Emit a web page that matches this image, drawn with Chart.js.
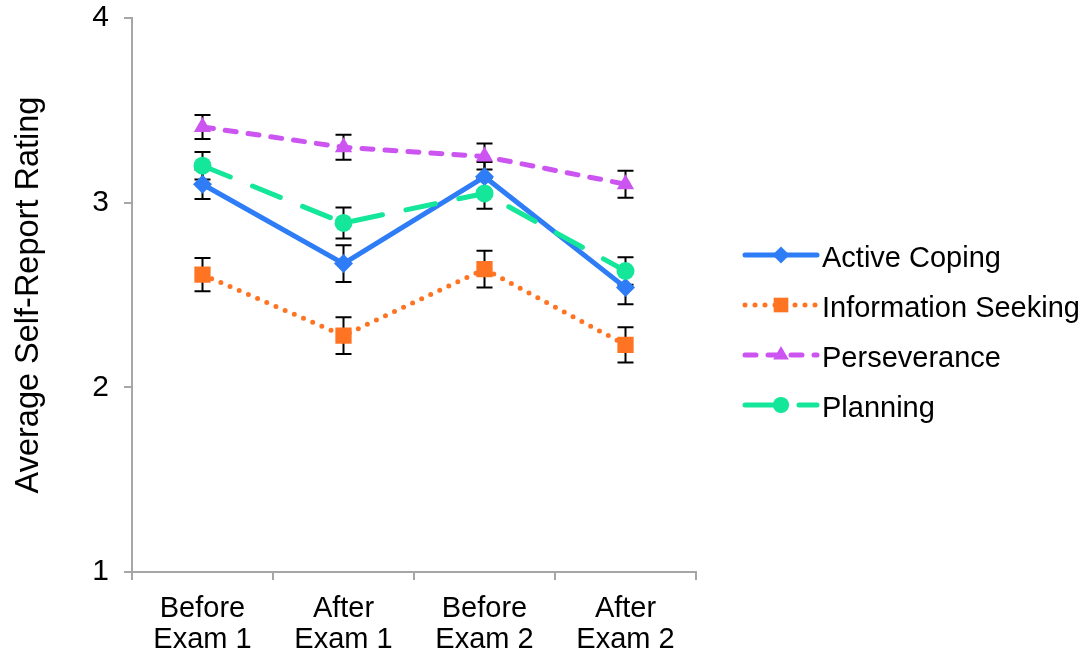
<!DOCTYPE html>
<html>
<head>
<meta charset="utf-8">
<script src="https://cdn.jsdelivr.net/npm/chart.js@4/dist/chart.umd.min.js"></script>
<style>
  html, body { margin: 0; padding: 0; background: #ffffff; }
  #wrap { width: 1088px; height: 653px; position: relative; }
</style>
</head>
<body>
<div id="wrap"><canvas id="c" width="1088" height="653"></canvas></div>
<script>
// Time points on the x axis (two-line labels)
const categories = [
  ['Before', 'Exam 1'],
  ['After', 'Exam 1'],
  ['Before', 'Exam 2'],
  ['After', 'Exam 2']
];

// Mean self-report ratings per coping strategy
const activeCoping        = [3.10, 2.67, 3.14, 2.54];
const informationSeeking  = [2.61, 2.28, 2.64, 2.23];
const perseverance        = [3.41, 3.30, 3.25, 3.10];
const planning            = [3.20, 2.89, 3.05, 2.63];

// Standard errors (half-length of each error bar)
const activeCopingErr       = [0.08, 0.10, 0.08, 0.09];
const informationSeekingErr = [0.09, 0.10, 0.10, 0.095];
const perseveranceErr       = [0.065, 0.068, 0.07, 0.073];
const planningErr           = [0.074, 0.084, 0.083, 0.074];

// Y axis range and ticks
const yMin = 1, yMax = 4, yStep = 1;
const yTitle = 'Average Self-Report Rating';

const FONT = '"Liberation Sans", Arial, Helvetica, sans-serif';

const series = [
  { label: 'Active Coping', data: activeCoping, err: activeCopingErr,
    color: '#2E7DF6', style: 'rectRot', radius: 9.5, dash: [], cap: 'round', width: 5 },
  { label: 'Information Seeking', data: informationSeeking, err: informationSeekingErr,
    color: '#FF7423', style: 'rect', radius: 11.5, dash: [0, 10], cap: 'round', width: 5 },
  { label: 'Perseverance', data: perseverance, err: perseveranceErr,
    color: '#CC55F2', style: 'triangle', radius: 10, dash: [11, 12], cap: 'round', width: 5 },
  { label: 'Planning', data: planning, err: planningErr,
    color: '#14E69A', style: 'circle', radius: 9, dash: [30, 24], cap: 'round', width: 5 }
];

// Error bars drawn underneath the lines and markers
const errorBars = {
  id: 'errorBars',
  beforeDatasetsDraw(chart) {
    const ctx = chart.ctx;
    const xs = chart.scales.x, ys = chart.scales.y;
    ctx.save();
    ctx.strokeStyle = '#000000';
    ctx.lineWidth = 2;
    ctx.setLineDash([]);
    series.forEach(s => {
      s.data.forEach((v, i) => {
        const x = xs.getPixelForValue(i);
        const yTop = ys.getPixelForValue(v + s.err[i]);
        const yBot = ys.getPixelForValue(v - s.err[i]);
        ctx.beginPath();
        ctx.moveTo(x, yTop); ctx.lineTo(x, yBot);
        ctx.moveTo(x - 8, yTop); ctx.lineTo(x + 8, yTop);
        ctx.moveTo(x - 8, yBot); ctx.lineTo(x + 8, yBot);
        ctx.stroke();
      });
    });
    ctx.restore();
  }
};

// Legend on the right: line sample with marker, then the series name
const sideLegend = {
  id: 'sideLegend',
  afterDraw(chart) {
    const ctx = chart.ctx;
    const x0 = 745, x1 = 817, xText = 822;
    const rows = [259, 309, 359, 409];
    ctx.save();
    series.forEach((s, i) => {
      const y = rows[i] - 4;
      ctx.strokeStyle = s.color;
      ctx.lineWidth = s.width;
      ctx.lineCap = s.cap;
      ctx.setLineDash(s.dash);
      ctx.beginPath();
      ctx.moveTo(x0, y); ctx.lineTo(x1, y);
      ctx.stroke();
      ctx.setLineDash([]);
      ctx.fillStyle = s.color;
      Chart.helpers.drawPoint(ctx, { pointStyle: s.style, radius: s.radius * 0.9, rotation: 0, borderWidth: 0 }, (x0 + x1) / 2, y);
      ctx.fillStyle = '#000000';
      ctx.font = '29px ' + FONT;
      ctx.textBaseline = 'middle';
      ctx.textAlign = 'left';
      ctx.fillText(s.label, xText, rows[i]);
    });
    ctx.restore();
  }
};

new Chart(document.getElementById('c'), {
  type: 'line',
  data: {
    labels: categories,
    datasets: series.map((s, i) => ({
      label: s.label,
      data: s.data,
      borderColor: s.color,
      backgroundColor: s.color,
      borderWidth: s.width,
      borderDash: s.dash,
      borderCapStyle: s.cap,
      borderJoinStyle: 'round',
      pointStyle: s.style,
      pointRadius: s.radius,
      pointHoverRadius: s.radius,
      pointBorderWidth: 0,
      pointBackgroundColor: s.color,
      tension: 0,
      fill: false,
      order: series.length - i
    }))
  },
  options: {
    responsive: false,
    animation: false,
    devicePixelRatio: 1,
    layout: { padding: { top: 18, right: 392, bottom: 0, left: 0 } },
    plugins: {
      legend: { display: false },
      tooltip: { enabled: false }
    },
    scales: {
      x: {
        type: 'category',
        offset: true,
        grid: { display: true, drawOnChartArea: false, offset: true, tickLength: 8, color: '#A6A6A6', lineWidth: 2 },
        border: { display: true, color: '#A6A6A6', width: 2 },
        ticks: { color: '#000000', font: { family: FONT, size: 29, lineHeight: 1.07 }, padding: 13, maxRotation: 0, autoSkip: false },
        afterFit(scale) { scale.height = 81; }
      },
      y: {
        min: yMin,
        max: yMax,
        grid: { display: true, drawOnChartArea: false, tickLength: 8, color: '#A6A6A6', lineWidth: 2 },
        border: { display: true, color: '#A6A6A6', width: 2 },
        ticks: { stepSize: yStep, color: '#000000', font: { family: FONT, size: 30, lineHeight: 0.1 }, padding: 15 },
        title: { display: true, text: yTitle, color: '#000000', font: { family: FONT, size: 32.5 }, padding: { top: 10, bottom: 0 } },
        afterFit(scale) { scale.width = 132; }
      }
    }
  },
  plugins: [errorBars, sideLegend]
});
</script>
</body>
</html>
